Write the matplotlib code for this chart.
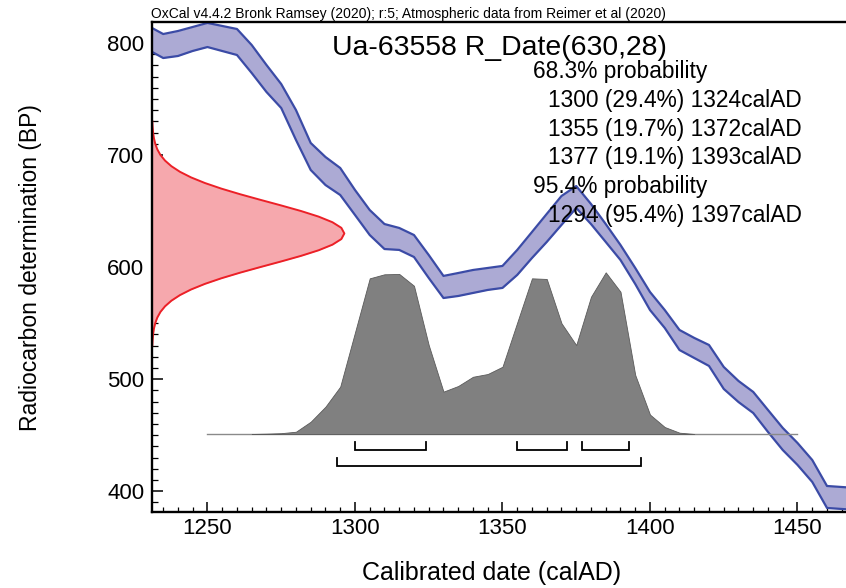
import matplotlib
matplotlib.use("Agg")
import matplotlib.pyplot as plt
from matplotlib.ticker import MultipleLocator

plt.rcParams['font.family'] = ['Liberation Sans', 'DejaVu Sans']

# ---------------- data ----------------
# Calibration curve (IntCal20 band, +/- 1 sigma)
cal_years = [1230, 1235, 1240, 1245, 1250, 1260, 1265, 1270, 1275, 1280,
             1285, 1290, 1295, 1300, 1305, 1310, 1315, 1320, 1325, 1330,
             1335, 1340, 1345, 1350, 1355, 1360, 1365, 1370, 1375, 1380,
             1385, 1390, 1395, 1400, 1405, 1410, 1415, 1420, 1425, 1430,
             1435, 1440, 1445, 1450, 1455, 1460, 1465, 1470]
cal_upper = [815.0, 807.9, 810.6, 814.2, 817.8, 812.4, 798.1, 780.3, 763.3, 740.1,
             710.7, 698.2, 688.4, 668.8, 650.9, 638.4, 634.9, 628.6, 610.8, 592.1,
             594.7, 597.4, 599.2, 601.0, 615.3, 631.3, 647.4, 663.4, 672.3, 656.3,
             638.4, 619.7, 599.2, 577.8, 561.7, 543.9, 536.8, 530.5, 510.9, 498.4,
             488.6, 472.5, 456.5, 443.1, 427.9, 404.7, 403.8, 402.9]
cal_lower = [793.7, 786.5, 788.3, 792.8, 796.3, 789.2, 773.1, 756.2, 741.9, 713.4,
             686.6, 673.2, 664.3, 646.5, 628.6, 616.1, 615.3, 609.0, 590.3, 572.4,
             574.2, 576.9, 579.6, 581.4, 593.0, 608.1, 622.4, 637.6, 652.7, 638.4,
             622.4, 606.3, 584.9, 561.7, 545.7, 526.0, 518.9, 511.8, 491.3, 479.6,
             469.8, 452.9, 436.8, 423.5, 408.3, 385.1, 384.2, 383.3]

# R_Date(630,28) likelihood (relative height) on the radiocarbon axis
rdate_bp = [530, 535, 540, 545, 550, 555, 560, 565, 570, 575, 580, 585, 590,
            595, 600, 605, 610, 615, 620, 625, 630, 635, 640, 645, 650, 655,
            660, 665, 670, 675, 680, 685, 690, 695, 700, 705, 710, 715, 720,
            725, 730]
rdate_rel = [0.0017, 0.0032, 0.0057, 0.0100, 0.0169, 0.0277, 0.0439, 0.0677,
             0.1008, 0.1453, 0.2030, 0.2749, 0.3604, 0.4578, 0.5632, 0.6711,
             0.7748, 0.8664, 0.9382, 0.9844, 1.0, 0.9844, 0.9382, 0.8664,
             0.7748, 0.6711, 0.5632, 0.4578, 0.3604, 0.2749, 0.2030, 0.1453,
             0.1008, 0.0677, 0.0439, 0.0277, 0.0169, 0.0100, 0.0057, 0.0032,
             0.0017]

# Calibrated probability distribution (relative)
post_years = [1265, 1270, 1275, 1280, 1285, 1290, 1295, 1300, 1305, 1310,
              1315, 1320, 1325, 1330, 1335, 1340, 1345, 1350, 1355, 1360,
              1365, 1370, 1375, 1380, 1385, 1390, 1395, 1400, 1405, 1410, 1415]
post_rel = [0.0, 0.002, 0.005, 0.014, 0.076, 0.169, 0.293, 0.628, 0.963, 0.988,
            0.99, 0.917, 0.55, 0.262, 0.297, 0.354, 0.371, 0.416, 0.69, 0.963,
            0.959, 0.685, 0.55, 0.849, 1.0, 0.88, 0.365, 0.12, 0.043, 0.008, 0.0]

range68 = [(1300, 1324), (1355, 1372), (1377, 1393)]
range95 = [(1294, 1397)]

header = "OxCal v4.4.2 Bronk Ramsey (2020); r:5; Atmospheric data from Reimer et al (2020)"
title = "Ua-63558 R_Date(630,28)"
prob_lines = [("68.3% probability", 0),
              ("1300 (29.4%) 1324calAD", 1),
              ("1355 (19.7%) 1372calAD", 1),
              ("1377 (19.1%) 1393calAD", 1),
              ("95.4% probability", 0),
              ("1294 (95.4%) 1397calAD", 1)]

# ---------------- figure ----------------
W, H = 846, 588
fig = plt.figure(figsize=(W / 100, H / 100), dpi=100)
x_left, x_right_px = 152, 856.5
y_top_px, y_bot_px = 21.7, 512
ax = fig.add_axes([x_left / W, 1 - y_bot_px / H,
                   (x_right_px - x_left) / W, (y_bot_px - y_top_px) / H])
XMIN, XMAX = 1231.2, 1470
YMIN, YMAX = 381.5, 818.9
ax.set_xlim(XMIN, XMAX)
ax.set_ylim(YMIN, YMAX)

# calibration band
band_fill = '#acaad4'
band_edge = '#3b4ba6'
ax.fill_between(cal_years, cal_lower, cal_upper, color=band_fill, lw=0, zorder=2)
ax.plot(cal_years, cal_upper, color=band_edge, lw=1.6, zorder=3, solid_joinstyle='round')
ax.plot(cal_years, cal_lower, color=band_edge, lw=1.6, zorder=3, solid_joinstyle='round')

# radiocarbon date on y axis
rd_width = 65.2
rd_x = [XMIN + rd_width * r for r in rdate_rel]
ax.fill_betweenx(rdate_bp, XMIN, rd_x, color='#f6a8ad', lw=0, zorder=2)
ax.plot(rd_x, rdate_bp, color='#ec2027', lw=1.4, zorder=3)

# calibrated distribution
base = 451.1
scale = 144.2
post_top = [base + scale * r for r in post_rel]
ax.plot([1250, 1450], [base, base], color='#8a8a8a', lw=1.0, zorder=4)
ax.fill_between(post_years, base, post_top, facecolor='#808080',
                edgecolor='#5a5a5a', lw=0.6, zorder=5)

# range brackets
def bracket(a, b, y, h):
    ax.plot([a, a, b, b], [y + h, y, y, y + h], color='black', lw=1.3,
            zorder=6, solid_joinstyle='miter')

for a, b in range68:
    bracket(a, b, 436.8, 7.2)
for a, b in range95:
    bracket(a, b, 422.6, 7.2)

# axes styling
ax.spines['right'].set_visible(False)
for s in ['left', 'bottom', 'top']:
    ax.spines[s].set_linewidth(1.7)
    ax.spines[s].set_zorder(7)
ax.xaxis.set_major_locator(MultipleLocator(50))
ax.xaxis.set_minor_locator(MultipleLocator(5))
ax.yaxis.set_major_locator(MultipleLocator(100))
ax.yaxis.set_minor_locator(MultipleLocator(10))
ax.tick_params(axis='both', which='both', direction='in', top=False, right=False)
ax.tick_params(axis='x', which='major', length=7.5, width=1.1, labelsize=16, pad=4)
ax.tick_params(axis='x', which='minor', length=3.8, width=0.9)
ax.tick_params(axis='y', which='major', length=8, width=1.1, labelsize=16, pad=5.5)
ax.tick_params(axis='y', which='minor', length=4.2, width=0.9)

fig.text(492 / W, 1 - 573 / H, "Calibrated date (calAD)", fontsize=18,
         ha='center', va='center')
fig.text(30 / W, 1 - 267.5 / H, "Radiocarbon determination (BP)", fontsize=16.5,
         ha='center', va='center', rotation=90)

fig.text(151 / W, 1 - 18 / H, header, fontsize=10, ha='left', va='baseline')
fig.text(667 / W, 1 - 55 / H, title, fontsize=20.4, ha='right', va='baseline')

y0 = 78.3
for i, (txt, indent) in enumerate(prob_lines):
    fig.text((533 + 15 * indent) / W, 1 - (y0 + 28.7 * i) / H, txt,
             fontsize=16.4, ha='left', va='baseline')

fig.savefig("out.png", dpi=100)
